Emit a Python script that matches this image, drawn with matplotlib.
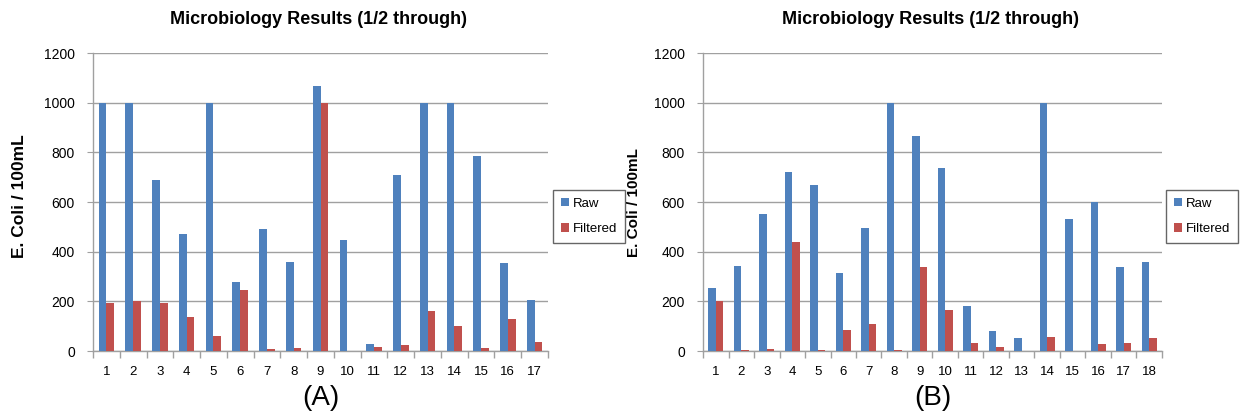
import matplotlib
matplotlib.use("Agg")
import matplotlib.pyplot as plt
import numpy as np

plt.rcParams['font.family'] = ['Liberation Sans', 'DejaVu Sans']

title = "Microbiology Results (1/2 through)"
ylabel = "E. Coli / 100mL"
series_names = ["Raw", "Filtered"]

cats_a = [str(i) for i in range(1, 18)]
raw_a = [1000, 1000, 688, 472, 1000, 278, 493, 357, 1068, 445, 30, 710, 1000, 1000, 785, 355, 205]
filt_a = [193, 200, 193, 137, 60, 245, 8, 12, 1000, 0, 15, 25, 160, 100, 12, 130, 35]

cats_b = [str(i) for i in range(1, 19)]
raw_b = [255, 343, 553, 720, 668, 313, 495, 1000, 867, 737, 180, 82, 53, 1000, 530, 598, 340, 358]
filt_b = [202, 5, 8, 438, 5, 85, 108, 5, 340, 167, 33, 15, 0, 55, 0, 30, 33, 52]

panel_labels = ["(A)", "(B)"]

BLUE = "#4F81BD"
RED = "#C0504D"

W, H = 1244, 415
fig = plt.figure(figsize=(W / 100, H / 100), dpi=100)


def panel(ax_rect, cats, raw, filt, leg_rect, ylab_xy, ylab_size, plabel):
    ax = fig.add_axes(ax_rect)
    n = len(cats)
    x = np.arange(n)
    w = 0.29
    ax.bar(x - w / 2, raw, width=w, color=BLUE, label=series_names[0], zorder=3)
    ax.bar(x + w / 2, filt, width=w, color=RED, label=series_names[1], zorder=3)
    ax.set_xlim(-0.5, n - 0.5)
    ax.set_ylim(0, 1200)
    ax.set_yticks(range(0, 1201, 200))
    ax.yaxis.grid(True, color="#a0a0a0", linewidth=1.0, zorder=0)
    ax.set_xticks(x)
    ax.set_xticklabels(cats)
    ax.set_xticks(np.arange(-0.5, n, 1.0), minor=True)
    ax.tick_params(axis='x', which='major', length=0, pad=11, labelsize=9.5, colors="#000000")
    ax.tick_params(axis='x', which='minor', length=5, direction='out', color="#a0a0a0", width=1)
    ax.tick_params(axis='y', length=4, direction='out', color="#a0a0a0", labelsize=10, pad=9)
    for s in ['top', 'right']:
        ax.spines[s].set_visible(False)
    for s in ['left', 'bottom']:
        ax.spines[s].set_color("#a0a0a0")
        ax.spines[s].set_linewidth(1.0)
    fig.text(ax_rect[0] + ax_rect[2] / 2 - 2 / W, 1 - 20 / H, title, fontsize=13,
             fontweight='bold', ha='center', va='center')
    fig.text(ylab_xy[0], ylab_xy[1], ylabel, rotation=90, fontsize=ylab_size,
             fontweight='bold', ha='center', va='center')
    fig.text(ax_rect[0] + ax_rect[2] / 2, 1 - 398 / H, plabel, fontsize=20, ha='center', va='center')
    leg = fig.legend(handles=ax.patches[:1] + ax.patches[n:n + 1], labels=series_names,
                     loc='upper left', bbox_to_anchor=leg_rect, fontsize=9.5,
                     frameon=True, fancybox=False, handlelength=0.6, handleheight=0.6,
                     handletextpad=0.3, labelspacing=1.0, borderpad=0.6, borderaxespad=0)
    leg.get_frame().set_edgecolor("#404040")
    leg.get_frame().set_linewidth(1.0)
    return ax


panel([93 / W, 1 - 351 / H, (548 - 93) / W, (351 - 53) / H], cats_a, raw_a, filt_a,
      (553 / W, 1 - 190 / H), (20 / W, 1 - 196 / H), 12.5, panel_labels[0])
panel([703 / W, 1 - 351 / H, (1162 - 703) / W, (351 - 53) / H], cats_b, raw_b, filt_b,
      (1166 / W, 1 - 190 / H), (634 / W, 1 - 203 / H), 11, panel_labels[1])

fig.savefig("out.png", dpi=100, facecolor="white")
